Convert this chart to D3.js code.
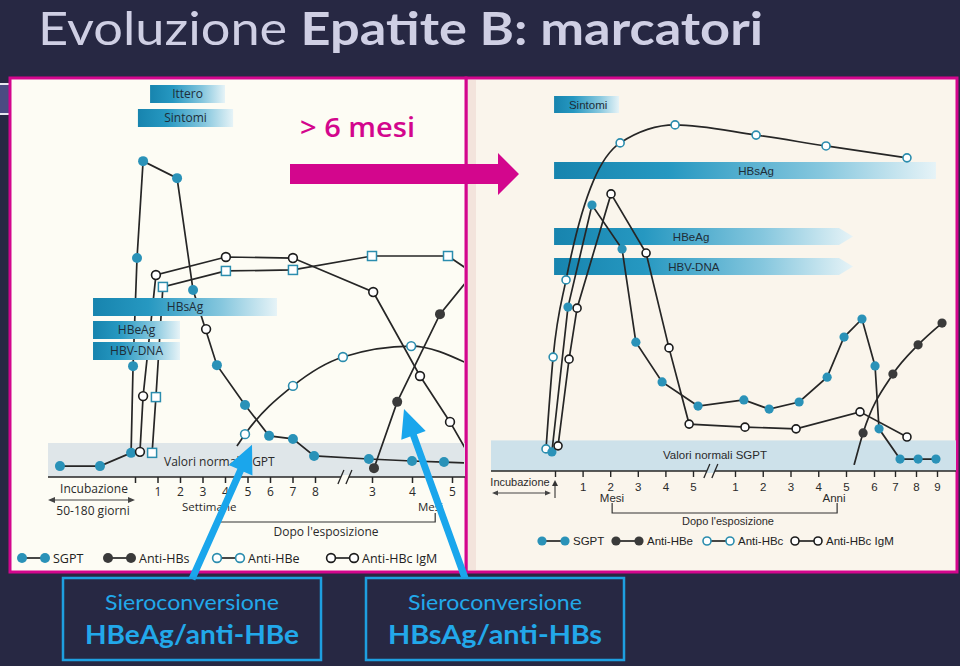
<!DOCTYPE html>
<html><head><meta charset="utf-8">
<script src="https://cdn.jsdelivr.net/npm/d3@7"></script>
<style>body{margin:0;background:#272843;}svg{display:block}</style>
</head><body>
<svg id="c" width="960" height="666"></svg>
<script>
// ---------------- DATA (t = position on time axis, v = level 0-100; third value 0 = no marker) ----------------
// Left chart: weeks 0..8 (t 0..8), then months 3,4,5 (t 10,11,12); incubation t<0
const leftTickValues = [0,1,2,3,4,5,6,7,8,10,11,12];
const leftTickLabels = ["","1","2","3","4","5","6","7","8","3","4","5"];
const leftSGPT = [[-3.45,3.2],[-1.61,3.2],[-0.18,7.1],[-0.09,32.6],[0.09,64.4],[0.36,92.9],[1.87,87.9],[2.58,55.0],[3.64,32.9],[4.89,21.2],[5.96,12.1],[7.02,11.2],[7.96,6.2],[9.89,5.3],[11.0,4.7],[11.8,4.4],[12.4,4.1,0]];
const leftIgM = [[0.22,7.4],[0.36,23.8],[0.93,59.4],[4.04,64.7],[7.02,64.4],[10.03,54.4],[11.2,29.7],[11.95,16.2],[12.4,7.0,0]];
const leftIgMExtra = [[3.16,43.5]];
const leftAntiHBc = [[0.76,7.1],[0.93,23.5],[1.24,55.9],[4.04,60.6],[7.02,60.9],[10.0,65.0],[11.9,65.0],[12.4,61.0,0]];
const leftAntiHBe = [[4.53,9.1,0],[4.89,12.6],[7.02,26.8],[8.98,35.3],[10.98,38.5],[12.4,33.3,0]];
const leftAntiHBs = [[10.05,2.6],[10.63,22.1],[11.7,47.9],[12.4,58.0,0]];
const leftBars = [
  {name:"Ittero", start:0.67, end:4.0},
  {name:"Sintomi", start:0.13, end:4.36},
  {name:"HBsAg", start:-1.93, end:6.31},
  {name:"HBeAg", start:-1.93, end:2.0},
  {name:"HBV-DNA", start:-1.93, end:2.0}
];
const leftLegend = [
  {label:"SGPT", style:"sgpt"},
  {label:"Anti-HBs", style:"dark"},
  {label:"Anti-HBe", style:"openTeal"},
  {label:"Anti-HBc IgM", style:"openBlack"}
];
const normalBandLeft = [0,10];

// Right chart: months 0..5 (t 0..5), years 1..9 (t 7..15)
const rightTickValues = [0,1,2,3,4,5,7,8,9,10,11,12,13,14,15];
const rightTickLabels = ["","1","2","3","4","5","1","2","3","4","5","6","7","8","9"];
const rightAntiHBc = [[-0.29,6.5],[-0.06,33.5],[0.40,56.2],[2.36,96.5],[4.35,101.8],[7.76,98.8],[10.28,95.6],[13.57,92.1]];
const rightSGPT = [[-0.10,5.6],[0.47,48.2],[1.34,78.2],[2.43,65.3],[2.93,37.9],[3.88,26.2],[5.24,19.1],[7.32,20.9],[8.23,18.2],[9.31,20.3],[10.32,27.6],[10.93,39.4],[11.57,44.7],[12.05,30.9],[12.24,12.4],[13.24,3.5],[14.1,3.5],[14.95,3.5]];
const rightIgM = [[0.11,7.4],[0.51,32.9],[0.80,47.9],[2.03,81.5],[3.30,64.1],[4.13,36.2],[4.86,13.8],[7.36,12.9],[9.20,12.4],[11.5,17.4],[13.57,10.0]];
const rightAntiHBe = [[11.29,1.8,0],[11.61,11.2],[12.9,28.5],[14.1,37.1],[15.24,43.5]];
const rightBars = [
  {name:"Sintomi", start:-0.03, end:2.32, label:1.2, arrow:false},
  {name:"HBsAg", start:-0.03, end:14.95, label:7.76, arrow:false},
  {name:"HBeAg", start:-0.03, end:11.25, label:4.93, arrow:true},
  {name:"HBV-DNA", start:-0.03, end:11.25, label:5.04, arrow:true}
];
const rightLegend = [
  {label:"SGPT", style:"sgpt"},
  {label:"Anti-HBe", style:"dark"},
  {label:"Anti-HBc", style:"openTeal"},
  {label:"Anti-HBc IgM", style:"openBlack"}
];
const normalBandRight = [0,9];

// ---------------- LAYOUT ----------------
const svg = d3.select("#c");
const MAG = "#d3068d", BLUE = "#1aa6ec", TEAL = "#2a92b8", INK = "#262626";
svg.append("rect").attr("width",960).attr("height",666).attr("fill","#272843");

const defs = svg.append("defs");
const gr = defs.append("linearGradient").attr("id","barGrad");
[[0,"#1784ae"],[0.3,"#2698c1"],[0.7,"#86c7de"],[1,"#e6f3f7"]].forEach(s=>gr.append("stop").attr("offset",s[0]).attr("stop-color",s[1]));
defs.append("clipPath").attr("id","clipL").append("rect").attr("x",11).attr("y",79).attr("width",453).attr("height",492);
defs.append("clipPath").attr("id","clipR").append("rect").attr("x",467).attr("y",79).attr("width",489).attr("height",492);

// Title
const title = svg.append("text").attr("x",38).attr("y",45).attr("font-family","Lato, 'Open Sans', sans-serif")
  .attr("font-size",46).attr("fill","#cfcfe4").attr("textLength",725).attr("lengthAdjust","spacingAndGlyphs");
title.append("tspan").attr("font-weight",400).text("Evoluzione ");
title.append("tspan").attr("font-weight",700).text("Epatite B: marcatori");

// small decoration at left edge
svg.append("rect").attr("x",0).attr("y",84).attr("width",9).attr("height",30).attr("fill","#4b4b82");
svg.append("line").attr("x1",0).attr("x2",9).attr("y1",84).attr("y2",84).attr("stroke","#e8e8f0").attr("stroke-width",2);
svg.append("line").attr("x1",0).attr("x2",9).attr("y1",114).attr("y2",114).attr("stroke","#e8e8f0").attr("stroke-width",2);

// Panels
svg.append("rect").attr("x",466).attr("y",78).attr("width",491).attr("height",494).attr("fill","#faf5ec").attr("stroke",MAG).attr("stroke-width",3);
svg.append("rect").attr("x",468).attr("y",80).attr("width",8).attr("height",490).attr("fill","#f3e4dc");
svg.append("rect").attr("x",10).attr("y",78).attr("width",456).attr("height",494).attr("fill","#fdfcf4").attr("stroke",MAG).attr("stroke-width",3);

// marker styles
function styleMarker(sel, st, r){
  if(st==="sgpt") sel.attr("r",r).attr("fill",TEAL).attr("stroke","none");
  else if(st==="dark") sel.attr("r",r).attr("fill","#3a3a3a").attr("stroke","none");
  else if(st==="openTeal") sel.attr("r",r-0.6).attr("fill","#fff").attr("stroke","#2b8dae").attr("stroke-width",1.6);
  else sel.attr("r",r-0.6).attr("fill","#fff").attr("stroke","#1c1c1c").attr("stroke-width",1.6);
}
function drawLine(g, data, x, y, curve){
  const line = d3.line().x(d=>x(d[0])).y(d=>y(d[1])).curve(curve||d3.curveLinear);
  g.append("path").attr("d",line(data)).attr("fill","none").attr("stroke",INK).attr("stroke-width",1.7);
}
function drawMarkers(g, data, x, y, st, r){
  const pts = data.filter(d=>d[2]!==0);
  if(st==="square"){
    g.selectAll(null).data(pts).enter().append("rect")
      .attr("x",d=>x(d[0])-4.5).attr("y",d=>y(d[1])-4.5).attr("width",9).attr("height",9)
      .attr("fill","#fff").attr("stroke","#2b8dae").attr("stroke-width",1.5);
  } else {
    styleMarker(g.selectAll(null).data(pts).enter().append("circle").attr("cx",d=>x(d[0])).attr("cy",d=>y(d[1])), st, r);
  }
}
function drawBars(g, bars, x, rows, h, font, fs, labelKey){
  bars.forEach((b,i)=>{
    const x0 = x(b.start), x1 = x(b.end), y0 = rows[i], y1 = rows[i]+h;
    let d;
    if(b.arrow){ d = `M${x0},${y0}H${x1-14}L${x1},${(y0+y1)/2}L${x1-14},${y1}H${x0}Z`; }
    else { d = `M${x0},${y0}H${x1}V${y1}H${x0}Z`; }
    g.append("path").attr("d",d).attr("fill","url(#barGrad)");
    const lx = labelKey ? x(b.label) : (x0+x1)/2;
    g.append("text").attr("x",lx).attr("y",(y0+y1)/2).attr("dy","0.36em").attr("text-anchor","middle")
      .attr("font-family",font).attr("font-size",fs).attr("fill","#1e2d38").text(b.name);
  });
}
function drawLegend(g, items, xs, y, font, fs, r){
  items.forEach((it,i)=>{
    const x0 = xs[i];
    g.append("line").attr("x1",x0).attr("x2",x0+23).attr("y1",y).attr("y2",y).attr("stroke",INK).attr("stroke-width",1.7);
    [x0, x0+23].forEach(cx=>styleMarker(g.append("circle").attr("cx",cx).attr("cy",y), it.style, r));
    g.append("text").attr("x",x0+31).attr("y",y).attr("dy","0.36em").attr("font-family",font).attr("font-size",fs).attr("fill","#222").text(it.label);
  });
}
function breakMark(g, xm, y, bg){
  g.append("rect").attr("x",xm-4).attr("y",y-2).attr("width",8).attr("height",4).attr("fill",bg);
  [-4,4].forEach(o=>g.append("line").attr("x1",xm+o-3).attr("x2",xm+o+3).attr("y1",y+7).attr("y2",y-7).attr("stroke",INK).attr("stroke-width",1.3));
}

// ---------------- LEFT CHART ----------------
const xL = d3.scaleLinear().domain([-4,0,8,10,12]).range([48,135,315,372,452]);
const yL = d3.scaleLinear().domain([0,100]).range([477,137]);
const L = svg.append("g");
const FL = "'Open Sans', 'Noto Sans', sans-serif";
L.append("rect").attr("x",xL(-4)).attr("y",yL(normalBandLeft[1])).attr("width",465-xL(-4)).attr("height",yL(normalBandLeft[0])-yL(normalBandLeft[1])).attr("fill","#dfe6e9");
L.append("text").attr("x",164).attr("y",462).attr("dy","0.36em").attr("font-family",FL).attr("font-size",12).attr("fill","#2a2a2a").text("Valori normali SGPT");
L.append("line").attr("x1",xL(-4)).attr("x2",465).attr("y1",yL(0)).attr("y2",yL(0)).attr("stroke",INK).attr("stroke-width",1.7);
const axL = d3.axisBottom(xL).tickValues(leftTickValues).tickFormat((d,i)=>leftTickLabels[i]).tickSize(6).tickPadding(4);
const gaL = L.append("g").attr("transform",`translate(0,${yL(0)})`).call(axL);
gaL.select(".domain").remove();
gaL.selectAll(".tick line").attr("stroke",INK).attr("stroke-width",1.5);
gaL.selectAll("text").attr("font-family",FL).attr("font-size",12).attr("fill","#2a2a2a");
breakMark(L, xL(9.05), yL(0), "#fdfcf4");
// incubation
L.append("text").attr("x",94).attr("y",493).attr("text-anchor","middle").attr("font-family",FL).attr("font-size",12).attr("fill","#2a2a2a").text("Incubazione");
L.append("line").attr("x1",xL(-4)+2).attr("x2",xL(0)-2).attr("y1",500).attr("y2",500).attr("stroke","#444").attr("stroke-width",1.2);
L.append("path").attr("d",`M${xL(-4)},500l7,-3v6z M${xL(0)},500l-7,-3v6z`).attr("fill","#444");
L.append("text").attr("x",93).attr("y",515).attr("text-anchor","middle").attr("font-family",FL).attr("font-size",12).attr("fill","#2a2a2a").text("50-180 giorni");
L.append("text").attr("x",182).attr("y",511).attr("font-family",FL).attr("font-size",11.5).attr("fill","#2a2a2a").text("Settimane");
L.append("text").attr("x",418).attr("y",511).attr("font-family",FL).attr("font-size",11.5).attr("fill","#2a2a2a").text("Mesi");
L.append("path").attr("d",`M${xL(3.78)},513V522H${xL(11.58)}V513`).attr("fill","none").attr("stroke","#333").attr("stroke-width",1.2);
L.append("text").attr("x",326).attr("y",536).attr("text-anchor","middle").attr("font-family",FL).attr("font-size",12).attr("fill","#2a2a2a").text("Dopo l'esposizione");
// series (under bars)
const LS = L.append("g").attr("clip-path","url(#clipL)");
drawLine(LS, leftSGPT, xL, yL);
drawLine(LS, leftIgM, xL, yL);
drawLine(LS, leftAntiHBc, xL, yL);
drawLine(LS, leftAntiHBe, xL, yL, d3.curveMonotoneX);
drawLine(LS, leftAntiHBs, xL, yL);
drawMarkers(LS, leftSGPT, xL, yL, "sgpt", 5);
drawMarkers(LS, leftIgM, xL, yL, "openBlack", 5);
drawMarkers(LS, leftIgMExtra, xL, yL, "openBlack", 5);
drawMarkers(LS, leftAntiHBc, xL, yL, "square", 5);
drawMarkers(LS, leftAntiHBe, xL, yL, "openTeal", 5);
drawMarkers(LS, leftAntiHBs, xL, yL, "dark", 5);
drawBars(L, leftBars, xL, [85,109,298,321,342], 18, FL, 12, false);
drawLegend(L, leftLegend, [22,108,217,331], 558, FL, 12.5, 5);

// ---------------- RIGHT CHART ----------------
const xR = d3.scaleLinear().domain([-2,0,5,7,11,12,15]).range([493,555,693,735,846,874,937]);
const yR = d3.scaleLinear().domain([0,100]).range([471,131]);
const R = svg.append("g");
const FR = "'Liberation Sans', Arial, sans-serif";
R.append("rect").attr("x",491).attr("y",yR(normalBandRight[1])).attr("width",465).attr("height",yR(normalBandRight[0])-yR(normalBandRight[1])).attr("fill","#cde1ea");
R.append("text").attr("x",715).attr("y",455).attr("dy","0.36em").attr("text-anchor","middle").attr("font-family",FR).attr("font-size",11.5).attr("fill","#2a2a2a").text("Valori normali SGPT");
R.append("line").attr("x1",491).attr("x2",956).attr("y1",yR(0)).attr("y2",yR(0)).attr("stroke",INK).attr("stroke-width",1.7);
const axR = d3.axisBottom(xR).tickValues(rightTickValues).tickFormat((d,i)=>rightTickLabels[i]).tickSize(6).tickPadding(6);
const gaR = R.append("g").attr("transform",`translate(0,${yR(0)})`).call(axR);
gaR.select(".domain").remove();
gaR.selectAll(".tick line").attr("stroke",INK).attr("stroke-width",1.4);
gaR.selectAll("text").attr("font-family",FR).attr("font-size",11.5).attr("fill","#2a2a2a");
breakMark(R, xR(5.85), yR(0), "#cde1ea");
R.append("text").attr("x",520).attr("y",486).attr("text-anchor","middle").attr("font-family",FR).attr("font-size",11).attr("fill","#2a2a2a").text("Incubazione");
R.append("line").attr("x1",494).attr("x2",549).attr("y1",493).attr("y2",493).attr("stroke","#444").attr("stroke-width",1.1);
R.append("path").attr("d","M492,493l6,-2.5v5z M551,493l-6,-2.5v5z").attr("fill","#444");
R.append("line").attr("x1",xR(0)).attr("x2",xR(0)).attr("y1",498).attr("y2",484).attr("stroke","#333").attr("stroke-width",1.1);
R.append("path").attr("d",`M${xR(0)},480l-3,6h6z`).attr("fill","#333");
R.append("text").attr("x",612).attr("y",502).attr("text-anchor","middle").attr("font-family",FR).attr("font-size",11.5).attr("fill","#2a2a2a").text("Mesi");
R.append("text").attr("x",834).attr("y",502).attr("text-anchor","middle").attr("font-family",FR).attr("font-size",11.5).attr("fill","#2a2a2a").text("Anni");
R.append("path").attr("d",`M${xR(2.07)},503V513H${xR(10.68)}V503`).attr("fill","none").attr("stroke","#333").attr("stroke-width",1.2);
R.append("text").attr("x",728).attr("y",525).attr("text-anchor","middle").attr("font-family",FR).attr("font-size",11).attr("fill","#2a2a2a").text("Dopo l'esposizione");
drawBars(R, rightBars, xR, [96,162,228,258], 17, FR, 11.5, true);
const RS = R.append("g").attr("clip-path","url(#clipR)");
drawLine(RS, rightAntiHBc, xR, yR, d3.curveMonotoneX);
drawLine(RS, rightSGPT, xR, yR);
drawLine(RS, rightIgM, xR, yR);
drawLine(RS, rightAntiHBe, xR, yR, d3.curveMonotoneX);
drawMarkers(RS, rightAntiHBc, xR, yR, "openTeal", 4.6);
drawMarkers(RS, rightSGPT, xR, yR, "sgpt", 4.6);
drawMarkers(RS, rightIgM, xR, yR, "openBlack", 4.6);
drawMarkers(RS, rightAntiHBe, xR, yR, "dark", 4.6);
drawLegend(R, rightLegend, [542,616,707,795], 541, FR, 11.5, 4.6);

// ---------------- ANNOTATIONS ----------------
svg.append("text").attr("x",300).attr("y",137).attr("font-family","'Open Sans', sans-serif").attr("font-weight",600)
  .attr("font-size",27).attr("fill",MAG).attr("textLength",115).attr("lengthAdjust","spacingAndGlyphs").text("> 6 mesi");
svg.append("path").attr("d","M290,164H498V153L519,174L498,195V184H290Z").attr("fill",MAG);

function blockArrow(x0,y0,x1,y1,sw,hl,hw){
  const dx=x1-x0, dy=y1-y0, len=Math.hypot(dx,dy), ux=dx/len, uy=dy/len, px=-uy, py=ux;
  const bx=x1-ux*hl, by=y1-uy*hl;
  const pts=[[x0+px*sw/2,y0+py*sw/2],[bx+px*sw/2,by+py*sw/2],[bx+px*hw/2,by+py*hw/2],[x1,y1],[bx-px*hw/2,by-py*hw/2],[bx-px*sw/2,by-py*sw/2],[x0-px*sw/2,y0-py*sw/2]];
  svg.append("path").attr("d","M"+pts.map(p=>p.join(",")).join("L")+"Z").attr("fill",BLUE);
}
blockArrow(192,579,xL(5.2),yL(9.5),7,28,26);
blockArrow(465,578,xL(10.8),yL(20),7,28,26);

// bottom boxes
const boxes = [
  {x:63, line1:"Sieroconversione", line2:"HBeAg/anti-HBe"},
  {x:366, line1:"Sieroconversione", line2:"HBsAg/anti-HBs"}
];
boxes.forEach(b=>{
  svg.append("rect").attr("x",b.x).attr("y",578).attr("width",258).attr("height",82).attr("fill","none").attr("stroke","#1e9fe0").attr("stroke-width",2.5);
  svg.append("text").attr("x",b.x+129).attr("y",610).attr("text-anchor","middle").attr("font-family","Lato, sans-serif").attr("font-size",22)
    .attr("fill","#22a8ea").attr("textLength",174).attr("lengthAdjust","spacingAndGlyphs").text(b.line1);
  svg.append("text").attr("x",b.x+129).attr("y",644).attr("text-anchor","middle").attr("font-family","Lato, sans-serif").attr("font-weight",700).attr("font-size",27)
    .attr("fill","#22a8ea").attr("textLength",214).attr("lengthAdjust","spacingAndGlyphs").text(b.line2);
});
</script>
</body></html>
